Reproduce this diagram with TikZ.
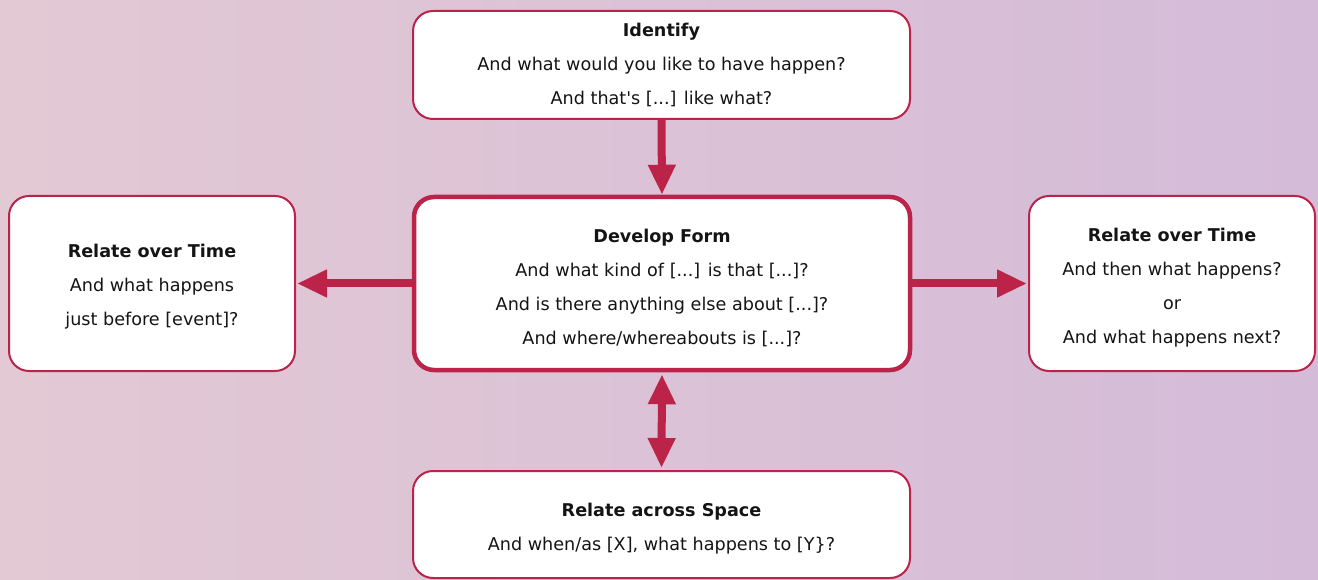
\documentclass[tikz,border=0pt]{standalone}
\usepackage{fontspec}
\setmainfont{DejaVu Sans}
\usetikzlibrary{arrows.meta}
\definecolor{bgL}{HTML}{E3C9D4}
\definecolor{bgR}{HTML}{D4BBD8}
\definecolor{crim}{HTML}{BC2349}
\definecolor{txt}{HTML}{141414}
\tikzset{
  qbox/.style={draw=crim, line width=2pt, fill=white, rounded corners=20pt,
    inner sep=0pt},
  mainbox/.style={qbox, line width=4.5pt},
  qtext/.style={align=center, inner sep=0pt, text=txt,
    font=\fontsize{17.6}{34}\selectfont},
  flow/.style={draw=crim, line width=8pt,
    -{Triangle[width=26pt,length=30pt]}},
  bothflow/.style={draw=crim, line width=8pt,
    {Triangle[width=26pt,length=30pt]}-{Triangle[width=26pt,length=30pt]}},
}
\begin{document}
\begin{tikzpicture}[x=1pt,y=-1pt]
\shade[left color=bgL, right color=bgR] (0,0) rectangle (1318,580);
\useasboundingbox (0,0) rectangle (1318,580);

\node[qbox, minimum width=497pt, minimum height=108pt] (ident) at (661.5,65) {};
\node[qtext] (identtext) at (ident.center)
  {\textbf{Identify}\\And what would you like to have happen?\\And that\textquotesingle s [...] like what?};
\node[mainbox, minimum width=496pt, minimum height=173pt] (dev) at (662,283.5) {};
\node[qtext] (devtext) at ([yshift=-4pt]dev.center)
  {\textbf{Develop Form}\\And what kind of [...] is that [...]?\\And is there anything else about [...]?\\And where/whereabouts is [...]?};
\node[qbox, minimum width=286pt, minimum height=175pt] (before) at (152,283.5) {};
\node[qtext] (beforetext) at ([yshift=-3pt]before.center)
  {\textbf{Relate over Time}\\And what happens\\just before [event]?};
\node[qbox, minimum width=286pt, minimum height=175pt] (after) at (1172,283.5) {};
\node[qtext] (aftertext) at ([yshift=-4pt]after.center)
  {\textbf{Relate over Time}\\And then what happens?\\or\\And what happens next?};
\node[qbox, minimum width=497pt, minimum height=107pt] (space) at (661.5,524.5) {};
\node[qtext] (spacetext) at ([yshift=-4.5pt]space.center)
  {\textbf{Relate across Space}\\And when/as [X], what happens to [Y\}?};

\draw[flow] (ident.south) -- (dev.north);
\draw[flow] (dev.west) -- ([xshift=1pt]before.east);
\draw[flow] (dev.east) -- ([xshift=-1pt]after.west);
\draw[bothflow, shorten <=2pt, shorten >=2pt] (dev.south) -- (space.north);
\end{tikzpicture}
\end{document}
